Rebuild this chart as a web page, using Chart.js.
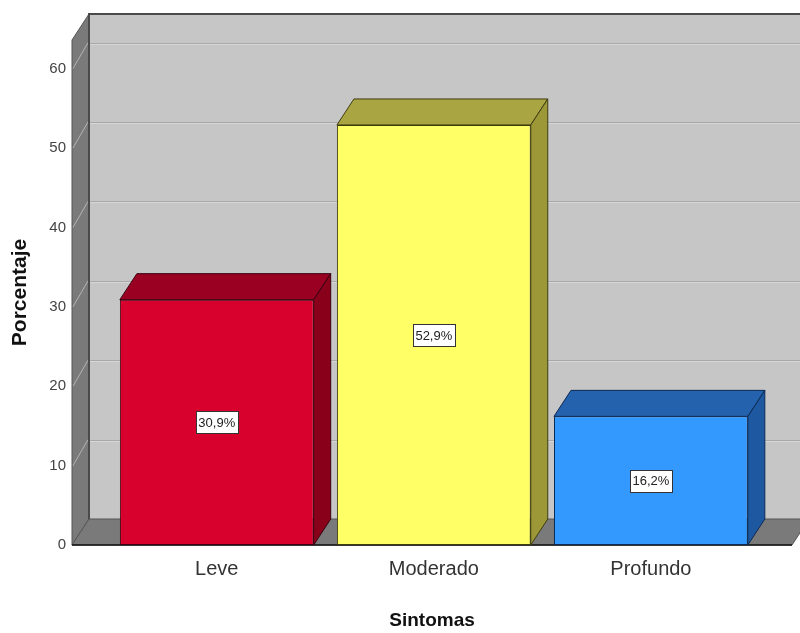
<!DOCTYPE html>
<html>
<head>
<meta charset="utf-8">
<script src="https://cdn.jsdelivr.net/npm/chart.js@4/dist/chart.umd.min.js"></script>
<style>
  html, body { margin: 0; padding: 0; background: #ffffff; }
  #wrap { width: 800px; height: 633px; position: relative; }
</style>
</head>
<body>
<div id="wrap"><canvas id="c" width="800" height="633"></canvas></div>
<script>
// ---- data ----
const categories = ['Leve', 'Moderado', 'Profundo'];
const percentages = [30.9, 52.9, 16.2];
const yTickValues = [0, 10, 20, 30, 40, 50, 60];
const xAxisTitle = 'Sintomas';
const yAxisTitle = 'Porcentaje';

// ---- styles ----
const frontColors = ['#d8002c', '#ffff66', '#3399ff'];
const topColors = ['#9a0022', '#aaa543', '#2462ad'];
const sideColors = ['#880019', '#9c9838', '#1d58a0'];
const edgeColors = ['#3a0010', '#3f3d10', '#0c2a55'];
const DX = 17, DY = -26;
const FONT = '"Liberation Sans", Arial, sans-serif';

const valueLabels = percentages.map(v => v.toFixed(1).replace('.', ',') + '%');

const threeD = {
  id: 'threeD',
  beforeDatasetsDraw(chart) {
    const { ctx, chartArea: a, scales: { y } } = chart;
    ctx.save();
    // back wall
    ctx.fillStyle = '#c6c6c6';
    ctx.fillRect(a.left + DX, a.top + DY, a.right - a.left, a.bottom - a.top);
    // back wall gridlines
    yTickValues.forEach(t => {
      if (t === 0) return;
      const py = Math.round(y.getPixelForValue(t) + DY) + 0.5;
      ctx.strokeStyle = '#a9a9a9';
      ctx.lineWidth = 1;
      ctx.beginPath(); ctx.moveTo(a.left + DX, py); ctx.lineTo(a.right + DX, py); ctx.stroke();
      ctx.strokeStyle = '#d6d6d6';
      ctx.beginPath(); ctx.moveTo(a.left + DX, py + 1); ctx.lineTo(a.right + DX, py + 1); ctx.stroke();
    });
    // left wall
    ctx.fillStyle = '#7a7a7a';
    ctx.beginPath();
    ctx.moveTo(a.left, a.top);
    ctx.lineTo(a.left + DX, a.top + DY);
    ctx.lineTo(a.left + DX, a.bottom + DY);
    ctx.lineTo(a.left, a.bottom);
    ctx.closePath(); ctx.fill();
    ctx.strokeStyle = '#555'; ctx.lineWidth = 1; ctx.stroke();
    // left wall gridlines
    yTickValues.forEach(t => {
      if (t === 0) return;
      const py = y.getPixelForValue(t);
      ctx.strokeStyle = '#b4b4b4';
      ctx.beginPath(); ctx.moveTo(a.left + 1, py); ctx.lineTo(a.left + DX - 1, py + DY); ctx.stroke();
    });
    // floor
    ctx.fillStyle = '#7a7a7a';
    ctx.beginPath();
    ctx.moveTo(a.left, a.bottom);
    ctx.lineTo(a.right, a.bottom);
    ctx.lineTo(a.right + DX, a.bottom + DY);
    ctx.lineTo(a.left + DX, a.bottom + DY);
    ctx.closePath(); ctx.fill();
    ctx.strokeStyle = '#555'; ctx.stroke();
    // back wall edges
    ctx.strokeStyle = '#4a4a4a';
    ctx.lineWidth = 2;
    ctx.beginPath();
    ctx.moveTo(a.left + DX, a.bottom + DY);
    ctx.lineTo(a.left + DX, a.top + DY);
    ctx.lineTo(a.right + DX, a.top + DY);
    ctx.stroke();
    // front axis line
    ctx.strokeStyle = '#111';
    ctx.lineWidth = 1.5;
    ctx.beginPath(); ctx.moveTo(a.left, a.bottom); ctx.lineTo(a.right, a.bottom); ctx.stroke();
    ctx.restore();
  },
  afterDatasetsDraw(chart) {
    const { ctx } = chart;
    const meta = chart.getDatasetMeta(0);
    ctx.save();
    meta.data.forEach((bar, i) => {
      const w = bar.width;
      const l = bar.x - w / 2, r = bar.x + w / 2, t = bar.y, b = bar.base;
      ctx.lineWidth = 1;
      ctx.strokeStyle = edgeColors[i];
      // top face
      ctx.fillStyle = topColors[i];
      ctx.beginPath();
      ctx.moveTo(l, t); ctx.lineTo(r, t); ctx.lineTo(r + DX, t + DY); ctx.lineTo(l + DX, t + DY);
      ctx.closePath(); ctx.fill(); ctx.stroke();
      // side face
      ctx.fillStyle = sideColors[i];
      ctx.beginPath();
      ctx.moveTo(r, t); ctx.lineTo(r + DX, t + DY); ctx.lineTo(r + DX, b + DY); ctx.lineTo(r, b);
      ctx.closePath(); ctx.fill(); ctx.stroke();
      // value label
      const cy = (t + b) / 2;
      ctx.font = '13px ' + FONT;
      const tw = ctx.measureText(valueLabels[i]).width;
      const bw = Math.round(tw + 5), bh = 22;
      const bx = Math.round(bar.x - bw / 2) + 0.5, by = Math.round(cy - bh / 2) + 0.5;
      ctx.fillStyle = '#ffffff';
      ctx.fillRect(bx, by, bw, bh);
      ctx.strokeStyle = '#333';
      ctx.strokeRect(bx, by, bw, bh);
      ctx.fillStyle = '#222';
      ctx.textAlign = 'center';
      ctx.textBaseline = 'middle';
      ctx.fillText(valueLabels[i], bar.x, cy + 1);
    });
    ctx.restore();
  }
};

new Chart(document.getElementById('c'), {
  type: 'bar',
  data: {
    datasets: [{
      data: categories.map((c, i) => ({ x: i, y: percentages[i] })),
      backgroundColor: frontColors,
      borderColor: edgeColors,
      borderWidth: 1,
      borderSkipped: false,
      barPercentage: 0.893,
      categoryPercentage: 1.0
    }]
  },
  options: {
    responsive: false,
    animation: false,
    layout: { padding: { top: 40, right: 8, left: 0, bottom: 0 } },
    plugins: { legend: { display: false }, tooltip: { enabled: false } },
    scales: {
      x: {
        type: 'linear',
        offset: false,
        min: -0.667,
        max: 2.65,
        afterBuildTicks: s => { s.ticks = categories.map((c, i) => ({ value: i })); },
        afterFit: s => { s.height = 88; },
        grid: { display: false, drawTicks: false, offset: false },
        border: { display: false },
        ticks: {
          callback: v => categories[v] ?? '',
          color: '#333',
          padding: 12,
          font: { family: FONT, size: 20 },
          maxRotation: 0, autoSkip: false
        },
        title: {
          display: true,
          text: xAxisTitle,
          color: '#111',
          font: { family: FONT, size: 19, weight: 'bold' },
          padding: { top: 0, bottom: 1 }
        }
      },
      y: {
        min: 0,
        max: 63.6,
        afterBuildTicks: s => { s.ticks = yTickValues.map(v => ({ value: v })); },
        afterFit: s => { s.width = 72; },
        grid: { display: false, drawTicks: false },
        border: { display: false },
        ticks: {
          color: '#444',
          padding: 6,
          font: { family: FONT, size: 15 }
        },
        title: {
          display: true,
          text: yAxisTitle,
          color: '#111',
          font: { family: FONT, size: 21, weight: 'bold' },
          padding: { top: 8, bottom: 0 }
        }
      }
    }
  },
  plugins: [threeD]
});
</script>
</body>
</html>
